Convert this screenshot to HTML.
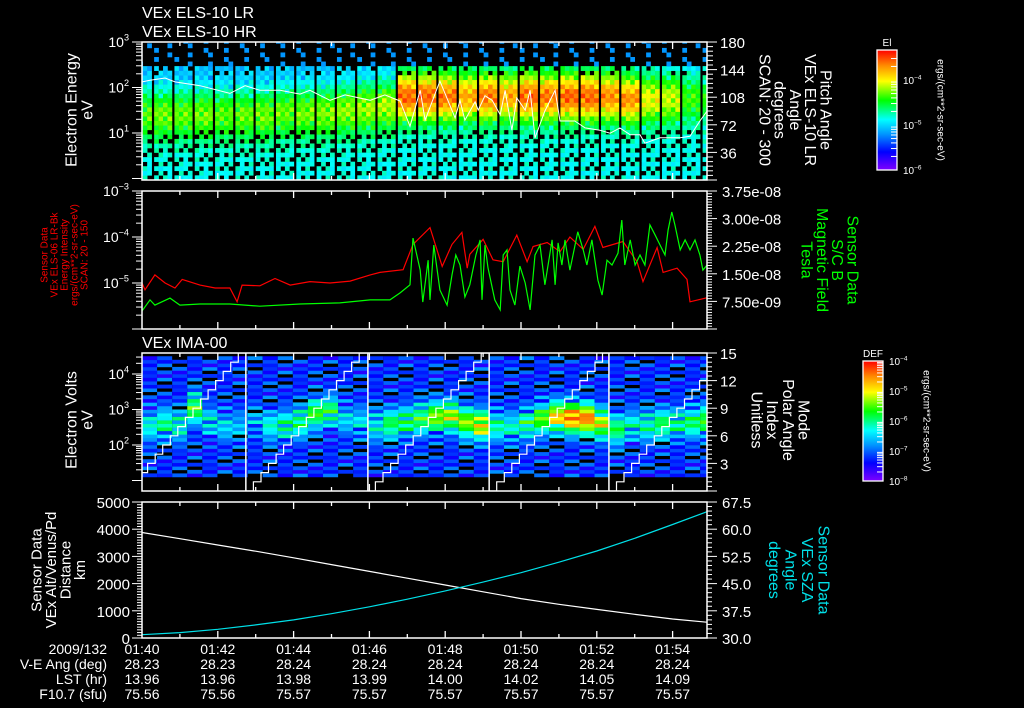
<!DOCTYPE html>
<html><head><meta charset="utf-8"><title>VEx plot</title>
<style>
html,body{margin:0;padding:0;background:#000;}
svg{display:block;font-family:"Liberation Sans",sans-serif;}
</style></head>
<body>
<svg id="chart" width="1024" height="708" viewBox="0 0 1024 708" xmlns="http://www.w3.org/2000/svg">
<defs>
<linearGradient id="rainbow" x1="0" y1="1" x2="0" y2="0">
<stop offset="0" stop-color="rgb(128,0,255)"/><stop offset="0.15" stop-color="rgb(0,0,255)"/><stop offset="0.3" stop-color="rgb(0,150,255)"/><stop offset="0.42" stop-color="rgb(0,255,255)"/><stop offset="0.58" stop-color="rgb(0,255,0)"/><stop offset="0.74" stop-color="rgb(255,255,0)"/><stop offset="0.87" stop-color="rgb(255,140,0)"/><stop offset="1" stop-color="rgb(255,0,0)"/>
</linearGradient>
<clipPath id="clip1"><rect x="142" y="42" width="565" height="138"/></clipPath>
<clipPath id="clip2"><rect x="142" y="191" width="565" height="138"/></clipPath>
<clipPath id="clip3"><rect x="142" y="353" width="565" height="138"/></clipPath>
<clipPath id="clip4"><rect x="142" y="502" width="565" height="136"/></clipPath>
</defs>
</svg>
<script>
// ---------- DATA ----------
const timeTickLabels = ["01:40","01:42","01:44","01:46","01:48","01:50","01:52","01:54"];
const veAngLabels = ["28.23","28.23","28.24","28.24","28.24","28.24","28.24","28.24"];
const lstLabels = ["13.96","13.96","13.98","13.99","14.00","14.02","14.05","14.09"];
const f107Labels = ["75.56","75.56","75.57","75.57","75.57","75.57","75.57","75.57"];

const elsFirstStart = -0.216;
const elsPeriod = 0.536;
const elsPeakLevel = [0.64,0.66,0.65,0.66,0.64,0.65,0.66,0.65,0.66,0.67,0.68,0.69,0.7,0.92,0.92,0.9,0.85,0.9,0.85,0.92,0.9,0.92,0.92,0.88,0.87,0.75,0.72,0.62,0.6];
const elsPeakLogE = [1.35,1.35,1.35,1.35,1.35,1.35,1.35,1.4,1.4,1.4,1.45,1.5,1.55,1.75,1.75,1.75,1.75,1.75,1.75,1.75,1.75,1.75,1.75,1.75,1.7,1.7,1.7,1.7,1.7];
const paTimes = [0,0.21,0.61,0.87,1.53,2.32,2.72,3.11,3.64,4.17,4.43,4.96,5.36,6.02,6.41,6.81,7.07,7.34,7.47,7.86,8.26,8.39,8.52,8.79,8.87,9.05,9.24,9.45,9.58,9.76,9.89,10.11,10.24,10.37,10.63,10.90,11.03,11.42,11.69,12.08,12.35,12.61,12.88,13.14,13.27,13.67,14.20,14.46,14.72,14.91];
const paVals = [128,130,133,128,123,113,123,117,117,112,117,104,111,104,111,103,70,117,78,129,81,104,78,102,91,110,104,85,117,65,107,91,117,55,90,117,77,77,68,65,61,68,59,59,48,55,55,57,77,90];

const redTimes = [0,0.08,0.34,0.61,0.87,1.06,1.53,1.93,2.32,2.51,2.64,3.11,3.51,3.91,4.43,4.96,5.49,6.02,6.28,6.89,7.15,7.60,7.92,8.18,8.44,8.58,8.65,9.0,9.26,9.53,9.89,10.16,10.32,10.69,11.03,11.29,11.64,11.95,12.16,12.69,13.06,13.22,13.59,13.75,14.12,14.38,14.46,14.91];
const redVals_e5 = [1.0,0.71,1.5,1.0,0.78,1.2,0.9,0.78,0.78,0.39,0.9,0.87,1.25,0.9,1.07,1.0,1.1,1.5,1.7,1.95,6.9,16,2.3,6.9,12.6,2.1,4.2,8.9,3.2,2.9,11,2.9,6.2,7.6,4.8,10,5.4,17,5.9,8,2.9,1.07,5.9,1.7,2.1,1.2,0.39,0.48];
const greenTimes = [0,0.21,0.34,0.74,1.00,1.53,2.32,3.11,4.17,5.22,6.02,6.54,6.81,7.07,7.15,7.34,7.41,7.55,7.60,7.70,7.86,8.05,8.18,8.28,8.39,8.52,8.65,8.81,8.92,8.97,9.05,9.13,9.31,9.45,9.53,9.63,9.71,9.84,9.97,10.11,10.24,10.37,10.50,10.63,10.82,10.90,10.98,11.08,11.16,11.29,11.50,11.64,11.74,11.87,12.03,12.14,12.27,12.40,12.56,12.66,12.74,12.88,13.01,13.14,13.27,13.40,13.54,13.67,13.80,13.88,13.98,14.06,14.20,14.33,14.46,14.59,14.72,14.80,14.91];
const greenVals_e9 = [4.9,7.9,6.5,8.4,6.5,6.8,6.8,6.2,6.8,7.1,7.9,7.9,9.8,12.0,24.7,16.0,7.3,18.7,7.9,22.8,10.6,6.5,14.7,20.1,17.4,8.7,12.0,20.1,24.2,7.9,22.8,16.6,7.9,5.2,20.1,21.5,10.6,6.5,17.1,12.5,5.2,20.1,22.8,12.0,24.2,12.0,23.4,17.4,24.2,16.0,26.4,21.5,17.4,24.2,13.3,9.2,18.7,17.4,20.6,29.6,17.4,24.2,17.4,20.1,17.4,28.3,25.5,22.8,20.1,26.9,31.8,28.3,21.5,24.2,21.5,24.2,20.1,16.0,17.4];

const imaColWidth = 0.398;
const imaPeakLevel = [0.45,0.5,0.48,0.62,0.42,0.4,0.35,0.35,0.45,0.5,0.55,0.6,0.55,0.4,0.4,0.45,0.55,0.55,0.6,0.68,0.72,0.68,0.78,0.5,0.45,0.55,0.65,0.8,0.93,0.9,0.75,0.55,0.45,0.5,0.55,0.5,0.55,0.6];
const imaPeakLogE = [2.5,2.55,2.5,3.0,2.6,2.5,2.5,2.6,2.5,2.5,2.6,2.85,2.9,2.7,2.6,2.5,2.55,2.6,2.7,2.75,2.75,2.6,2.5,2.5,2.45,2.55,2.7,2.75,2.72,2.7,2.55,2.4,2.5,2.5,2.55,2.55,2.6,2.65];
const imaSegStarts = [-0.45,2.74,5.96,9.16,12.32];
const imaSegLen = 3.19;

const orbitTimes = [0,1,2,3,4,5,6,7,8,9,10,11,12,13,14,14.9];
const altitudeKm = [3880,3650,3420,3190,2950,2700,2450,2200,1950,1700,1450,1240,1050,870,700,580];
const szaDeg = [30.9,31.5,32.4,33.6,35,36.7,38.6,40.7,43,45.4,48,50.9,54,57.5,61.3,64.8];

const cellTexture = [0,-0.06,0.04,-0.12,0.08,-0.03,0.1,-0.2,0.02,-0.08,0.06,-0.15,0.03,-0.05,0.12,-0.1,0,-0.25];

// ---------- HELPERS ----------
const NS='http://www.w3.org/2000/svg';
const svg=document.getElementById('chart');
function mk(tag,attrs,parent){const e=document.createElementNS(NS,tag);for(const k in attrs)e.setAttribute(k,attrs[k]);(parent||svg).appendChild(e);return e;}
const X0=142, X1=707, PXMIN=37.9;
const xT = t => X0 + t*PXMIN;
const y1E = le => 42 + (3-le)*45.5;
const y1PA = d => 180 - d/180*138;
const y2F = v => 191 + (-3 - Math.log10(v))*46;
const y2B = v => 329 - v/3.75e-8*138;
const y3E = le => 374 + (4-le)*35.5;
const y3I = i => 491 - i/15*138;
const y4A = km => 638 - km/5000*136;
const y4S = d => 638 - (d-30)/37.5*136;
const stops=[[0,[128,0,255]],[0.15,[0,0,255]],[0.3,[0,150,255]],[0.42,[0,255,255]],[0.58,[0,255,0]],[0.74,[255,255,0]],[0.87,[255,140,0]],[1,[255,0,0]]];
function cmap(v){v=Math.max(0,Math.min(1,v));for(let i=1;i<stops.length;i++){if(v<=stops[i][0]){const a=stops[i-1],b=stops[i];const f=(v-a[0])/(b[0]-a[0]);const c=a[1].map((q,j)=>Math.round(q+(b[1][j]-q)*f));return 'rgb('+c.join(',')+')';}}return 'rgb(255,0,0)';}
function txt(x,y,s,attrs){const e=mk('text',Object.assign({x:x,y:y,fill:'#fff','font-size':14},attrs||{}));e.textContent=s;return e;}
function vtext(x,y,s,rot,attrs){const e=mk('text',Object.assign({x:x,y:y,fill:'#fff','font-size':15,'text-anchor':'middle','dominant-baseline':'central',transform:'rotate('+rot+' '+x+' '+y+')'},attrs||{}));e.textContent=s;return e;}
function supText(x,y,base,sup,size,anchor){const e=mk('text',{x:x,y:y,fill:'#fff','font-size':size,'text-anchor':anchor||'end'});const a=document.createElementNS(NS,'tspan');a.textContent=base;e.appendChild(a);const b=document.createElementNS(NS,'tspan');b.setAttribute('dy',-size*0.45);b.setAttribute('font-size',size*0.65);b.textContent=sup;e.appendChild(b);return e;}

// ---------- PANEL 1 ----------
const g1=mk('g',{'clip-path':'url(#clip1)'});


const SUB=4;
for(let c=0;c<elsPeakLevel.length;c++){
  const t0=elsFirstStart+c*elsPeriod;
  const xa=xT(t0), xb=xT(t0+elsPeriod)-2.5;
  const sw=(xb-xa)/SUB;
  for(let s=0;s<SUB;s++){
    for(let r=0;r<31;r++){
      const le=-0.03+r*0.1;
      const tex=cellTexture[(r*5+(c*SUB+s)*7)%cellTexture.length];
      const pk=elsPeakLevel[c], pe=elsPeakLogE[c];
      const d=le-pe;
      let lvl = d>0 ? 0.33+(pk-0.33)*Math.exp(-Math.pow(d/0.6,2)) : 0.42+(pk-0.42)*Math.exp(-Math.pow(d/0.55,2));
      lvl+=tex*0.4;
      if(le>2.45){ if(tex<0.07) continue; lvl=0.3; }
      else if(le>2.2 && tex<-0.14) continue;
      else if(le<1.0 && tex<-0.09) continue;
      const cell=mk('rect',{x:xa+s*sw,y:y1E(le+0.1),width:sw+0.3,height:45.5*0.1+0.3,fill:cmap(lvl)},g1);
      
      
    }
  }
}
const paPts=paTimes.map((t,i)=>xT(t).toFixed(1)+','+y1PA(paVals[i]).toFixed(1)).join(' ');
const paLine=mk('polyline',{points:paPts,fill:'none',stroke:'#fff','stroke-width':1},g1);



// ---------- PANEL 2 ----------
const g2=mk('g',{'clip-path':'url(#clip2)'});


const redPts=redTimes.map((t,i)=>xT(t).toFixed(1)+','+y2F(redVals_e5[i]*1e-5).toFixed(1)).join(' ');
const redLine=mk('polyline',{points:redPts,fill:'none',stroke:'#ff0000','stroke-width':1.2},g2);


const grnPts=greenTimes.map((t,i)=>xT(t).toFixed(1)+','+y2B(greenVals_e9[i]*1e-9).toFixed(1)).join(' ');
const grnLine=mk('polyline',{points:grnPts,fill:'none',stroke:'#00ff00','stroke-width':1.2},g2);



// ---------- PANEL 3 ----------
const g3=mk('g',{'clip-path':'url(#clip3)'});


for(let c=0;c<imaPeakLevel.length;c++){
  const xa=xT(c*imaColWidth), xb=xT((c+1)*imaColWidth);
  for(let r=0;r<34;r++){
    const le=1.1+r*0.1;
    const tex=cellTexture[(r*7+c*5)%cellTexture.length];
    const d=le-imaPeakLogE[c];
    let lvl=0.2+(imaPeakLevel[c]-0.2)*Math.exp(-Math.pow(d/0.42,2))+tex*0.8;
    if(lvl<0.1) continue;
    const cell=mk('rect',{x:xa,y:y3E(le+0.1),width:xb-xa,height:3.85,fill:cmap(lvl)},g3);
    
    
  }
}
imaSegStarts.forEach((s,i)=>{
  let d='';
  for(let k=0;k<16;k++){
    const ta=s+k*imaSegLen/16, tb=s+(k+1)*imaSegLen/16;
    d+=(k===0?'M':'L')+xT(ta).toFixed(1)+','+y3I(k).toFixed(1)+' H'+xT(tb).toFixed(1)+' ';
  }
  const st=mk('path',{d:d,fill:'none',stroke:'#fff','stroke-width':1.2},g3);
  
  
  if(i>0){
    const b=mk('line',{x1:xT(s),x2:xT(s),y1:353,y2:491,stroke:'#fff','stroke-width':1.5},g3);
    
    
  }
});

// ---------- PANEL 4 ----------
const g4=mk('g',{'clip-path':'url(#clip4)'});


const altLine=mk('polyline',{points:orbitTimes.map((t,i)=>xT(t).toFixed(1)+','+y4A(altitudeKm[i]).toFixed(1)).join(' '),fill:'none',stroke:'#fff','stroke-width':1.2},g4);


const szaLine=mk('polyline',{points:orbitTimes.map((t,i)=>xT(t).toFixed(1)+','+y4S(szaDeg[i]).toFixed(1)).join(' '),fill:'none',stroke:'#00e0e8','stroke-width':1.2},g4);



// ---------- FRAMES & TICKS ----------
const panels=[[42,180],[191,329],[353,491],[502,638]];
panels.forEach((p,i)=>{
  const fr=mk('rect',{x:X0,y:p[0],width:X1-X0,height:p[1]-p[0],fill:'none',stroke:'#fff','stroke-width':1.5});
  
  
  for(let t=1;t<15;t++){
    const L=(t%2===0)?7:4;
    const a=mk('line',{x1:xT(t),x2:xT(t),y1:p[0],y2:p[0]+L,stroke:'#fff','stroke-width':1.3});
    
    
    const b=mk('line',{x1:xT(t),x2:xT(t),y1:p[1],y2:p[1]-L,stroke:'#fff','stroke-width':1.3});
    
    
  }
});
function tick(x,y,len){const l=mk('line',{x1:x,x2:x+len,y1:y,y2:y,stroke:'#fff','stroke-width':1});}
for(let d=0;d<3;d++)for(let m=1;m<10;m++){const y=y1E(d+Math.log10(m));if(y<=180)tick(X0-(m===1?10:6),y,m===1?10:6);}
tick(X0-10,42,10);
[[3,'3'],[2,'2'],[1,'1']].forEach(a=>supText(129,y1E(a[0])+5,'10',a[1],14));
for(let dg=0;dg<=180;dg+=6){tick(X1,y1PA(dg),dg%36===0?10:6);}
[180,144,108,72,36].forEach(v=>txt(720,y1PA(v)+6,String(v),{'font-size':15}));
for(let d=-6;d<-3;d++)for(let m=1;m<10;m++){const y=y2F(Math.pow(10,d)*m);tick(X0-(m===1?10:6),y,m===1?10:6);}
tick(X0-10,191,10);
[[-3,'−3'],[-4,'−4'],[-5,'−5']].forEach(a=>supText(129,y2F(Math.pow(10,a[0]))+5,'10',a[1],14));
for(let k=0;k<=50;k++){const v=k*0.75e-9;tick(X1,y2B(v),k%10===0?10:5);}
['3.75e-08','3.00e-08','2.25e-08','1.50e-08','7.50e-09'].forEach(s=>txt(722,y2B(parseFloat(s))+6,s,{'font-size':15}));
for(let d=1;d<5;d++)for(let m=1;m<10;m++){const le=d+Math.log10(m);const y=y3E(le);if(y>=353&&y<=491)tick(X0-(m===1?10:6),y,m===1?10:6);}
[[4,'4'],[3,'3'],[2,'2']].forEach(a=>supText(129,y3E(a[0])+5,'10',a[1],14));
for(let k=0;k<=30;k++){tick(X1,y3I(k*0.5),k%6===0?10:5);}
[15,12,9,6,3].forEach(v=>txt(720,y3I(v)+6,String(v),{'font-size':15}));
for(let k=0;k<=50;k++){tick(X0-(k%10===0?10:5),y4A(k*100),k%10===0?10:5);}
[0,1000,2000,3000,4000,5000].forEach(v=>txt(130,y4A(v)+6,String(v),{'font-size':15,'text-anchor':'end'}));
for(let k=0;k<=30;k++){tick(X1,y4S(30+k*1.25),k%6===0?10:5);}
['67.5','60.0','52.5','45.0','37.5','30.0'].forEach(s=>txt(722,y4S(parseFloat(s))+6,s,{'font-size':15}));

// ---------- TITLES & LABELS ----------
let e;
e=txt(142,18,'VEx ELS-10 LR',{'font-size':16});
e=txt(142,37,'VEx ELS-10 HR',{'font-size':16});
e=txt(142,348,'VEx IMA-00',{'font-size':16});
e=vtext(72,110,'Electron Energy',-90,{'font-size':16});
e=vtext(88,110,'eV',-90,{'font-size':16});
['Sensor Data','VEx ELS-06 LR-Bk','Energy Intensity','ergs/(cm**2-sr-sec-eV)','SCAN: 20 - 150'].forEach((s,i)=>{const t=vtext(45+i*10,255,s,-90,{'font-size':10,fill:'#ff0000'});});
e=vtext(72,420,'Electron Volts',-90,{'font-size':16});
e=vtext(88,420,'eV',-90,{'font-size':16});
['Sensor Data','VEx Alt/Venus/Pd','Distance','km'].forEach((s,i)=>{const t=vtext(37+i*14.5,570,s,-90,{'font-size':15});});
['Pitch Angle','VEx ELS-10 LR','Angle','degrees','SCAN: 20 - 300'].forEach((s,i)=>{const t=vtext(825-i*15.3,110,s,90,{'font-size':16});});
['Sensor Data','S/C B','Magnetic Field','Tesla'].forEach((s,i)=>{const t=vtext(852-i*15.3,260,s,90,{'font-size':16,fill:'#00ff00'});});
['Mode','Polar Angle','Index','Unitless'].forEach((s,i)=>{const t=vtext(803-i*15.7,420,s,90,{'font-size':16});});
['Sensor Data','VEx SZA','Angle','degrees'].forEach((s,i)=>{const t=vtext(823-i*16.5,570,s,90,{'font-size':16,fill:'#00e0e8'});});

// ---------- COLORBARS ----------
function colorbar(x,y0,y1,w,label,ticks,labels,ux,name){
  const r=mk('rect',{x:x,y:y0,width:w,height:y1-y0,fill:'url(#rainbow)',stroke:'#fff','stroke-width':1.3});
  
  
  const t=txt(x+w/2,y0-4,label,{'font-size':10,'text-anchor':'middle'});
  
  
  for(let k=0;k<ticks.length;k++){const l=mk('line',{x1:x+w-6,x2:x+w,y1:ticks[k],y2:ticks[k],stroke:'#fff','stroke-width':1});}
  labels.forEach(a=>supText(x+w+6,a[0]+4,'10',a[1],10,'start'));
  const u=vtext(ux,(y0+y1)/2,'ergs/(cm**2-sr-sec-eV)',90,{'font-size':10});
  
  
}
const cb1Ticks=[];for(let d=0;d<3;d++)for(let m=2;m<10;m+=1){cb1Ticks.push(170-(d+Math.log10(m))*45);}
colorbar(877,50,170,20,'El',cb1Ticks.filter(y=>y>55),[[80,'−4'],[125,'−5'],[170,'−6']],940,'colorbar-els');
const cb3Ticks=[];for(let d=0;d<4;d++)for(let m=2;m<10;m+=1){cb3Ticks.push(481-(d+Math.log10(m))*30);}
colorbar(863,361,481,20,'DEF',cb3Ticks,[[361,'−4'],[391,'−5'],[421,'−6'],[451,'−7'],[481,'−8']],926,'colorbar-ima');

// ---------- BOTTOM TIME ANNOTATION ----------
const rowY=[654,669,684,699];
const rowHdr=['2009/132','V-E Ang (deg)','LST (hr)','F10.7 (sfu)'];
rowHdr.forEach((s,i)=>{const t=txt(107,rowY[i],s,{'font-size':14,'text-anchor':'end'});});
const rows=[timeTickLabels,veAngLabels,lstLabels,f107Labels];
rows.forEach((arr,i)=>arr.forEach((s,k)=>{const t=txt(xT(k*2),rowY[i],s,{'font-size':14,'text-anchor':'middle'});}));
</script>
</body></html>
